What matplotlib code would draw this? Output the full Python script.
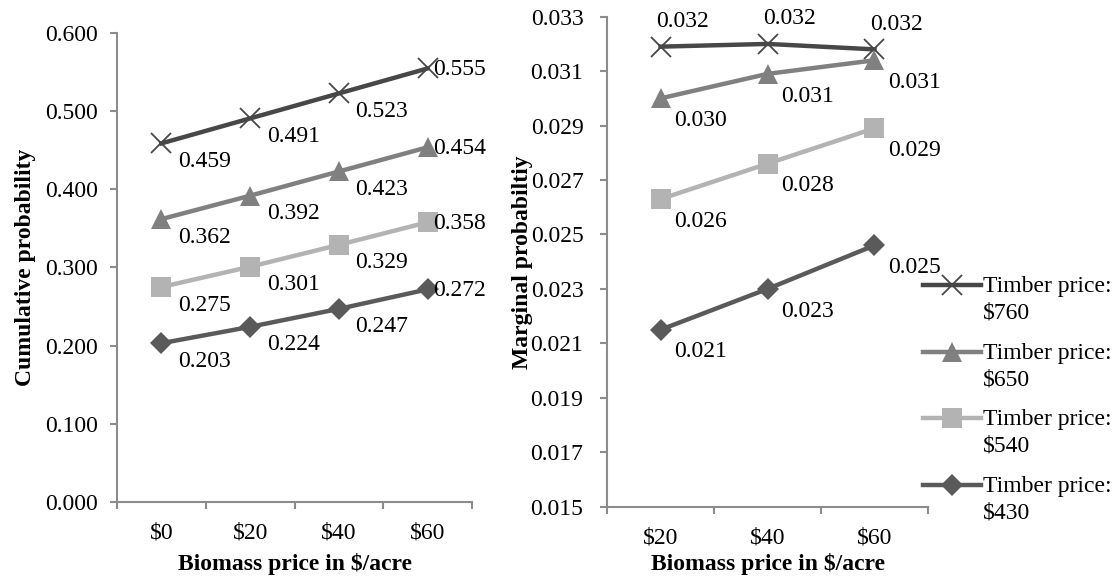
import numpy as np
import matplotlib
matplotlib.use("Agg")
from matplotlib import pyplot as plt
from matplotlib.legend_handler import HandlerLine2D

plt.rcParams['font.family'] = ['Liberation Serif', 'DejaVu Serif']
plt.rcParams['font.size'] = 17

# data
cum_x = ["$0", "$20", "$40", "$60"]
marg_x = ["$20", "$40", "$60"]
series = ["Timber price:\n$760", "Timber price:\n$650", "Timber price:\n$540", "Timber price:\n$430"]

cum_760 = [0.459, 0.491, 0.523, 0.555]
cum_650 = [0.362, 0.392, 0.423, 0.454]
cum_540 = [0.275, 0.301, 0.329, 0.358]
cum_430 = [0.203, 0.224, 0.247, 0.272]

marg_760 = [0.0319, 0.0320, 0.0318]
marg_650 = [0.0300, 0.0309, 0.0314]
marg_540 = [0.0263, 0.0276, 0.0289]
marg_430 = [0.0215, 0.0230, 0.0246]

cum_yticks = [0.0, 0.1, 0.2, 0.3, 0.4, 0.5, 0.6]
marg_yticks = [0.015, 0.017, 0.019, 0.021, 0.023, 0.025, 0.027, 0.029, 0.031, 0.033]

# styles
colors = ["#474747", "#808080", "#b3b3b3", "#5a5a5a"]
markers = ["x", "^", "s", "D"]
msizes = [14, 14, 14, 11]
axis_col = "#8c8c8c"


class FirstLineHandler(HandlerLine2D):
    # put the handle next to the first line of a two-line label
    def create_artists(self, legend, orig_handle, xdescent, ydescent, width, height, fontsize, trans):
        arts = super().create_artists(legend, orig_handle, xdescent, ydescent, width, height, fontsize, trans)
        for a in arts:
            a.set_ydata(np.asarray(a.get_ydata(), dtype=float) + 0.62 * fontsize)
        return arts


def style_axes(ax, n, yticks, fmt):
    for s in ["top", "right"]:
        ax.spines[s].set_visible(False)
    for s in ["left", "bottom"]:
        ax.spines[s].set_color(axis_col)
        ax.spines[s].set_linewidth(1.5)
    ax.set_xlim(-0.5, n - 0.5)
    ax.set_xticks(range(n))
    ax.set_xticks(np.arange(-0.5, n, 1.0), minor=True)
    ax.tick_params(axis="x", which="major", length=0, pad=15)
    ax.tick_params(axis="x", which="minor", length=5, width=1.5, color=axis_col, direction="out")
    ax.set_yticks(yticks)
    ax.set_ylim(yticks[0], yticks[-1])
    ax.set_yticklabels([fmt % v for v in yticks])
    ax.tick_params(axis="y", length=5, width=1.5, color=axis_col, direction="out")


fig = plt.figure(figsize=(11.18, 5.8), dpi=100)
ax1 = fig.add_axes([0.1047, 0.135, 0.3175, 0.8076])
ax2 = fig.add_axes([0.543, 0.1264, 0.287, 0.8448])

cum = [cum_760, cum_650, cum_540, cum_430]
marg = [marg_760, marg_650, marg_540, marg_430]

lines = []
for i, vals in enumerate(cum):
    ln, = ax1.plot(range(len(cum_x)), vals, color=colors[i], lw=3.2, marker=markers[i],
                   ms=msizes[i], mew=1.3 if markers[i] == "x" else 0, mec=colors[i], label=series[i])
    lines.append(ln)
    for j, v in enumerate(vals):
        if j == len(vals) - 1:
            off = (4, -1)
        else:
            off = (12, -13)
        ax1.annotate("%.3f" % v, (j, v), xytext=off, textcoords="offset points",
                     ha="left", va="center")

for i, vals in enumerate(marg):
    ax2.plot(range(len(marg_x)), vals, color=colors[i], lw=3.2, marker=markers[i],
             ms=msizes[i], mew=1.3 if markers[i] == "x" else 0, mec=colors[i])
    for j, v in enumerate(vals):
        if i == 0:
            off = (-3, 18)
        else:
            off = (10, -16)
        ax2.annotate("%.3f" % v, (j, v), xytext=off, textcoords="offset points",
                     ha="left", va="center")

style_axes(ax1, len(cum_x), cum_yticks, "%.3f")
style_axes(ax2, len(marg_x), marg_yticks, "%.3f")
ax1.set_xticklabels(cum_x)
ax2.set_xticklabels(marg_x)
ax1.tick_params(axis="y", pad=9)
ax2.tick_params(axis="y", pad=12)

ax1.set_ylabel("Cumulative probability", fontweight="bold")
ax1.yaxis.set_label_coords(-0.228, 0.5)
ax2.set_ylabel("Marginal probabiltiy", fontweight="bold")
ax2.yaxis.set_label_coords(-0.231, 0.5)
ax1.set_xlabel("Biomass price in $/acre", fontweight="bold")
ax1.xaxis.set_label_coords(0.5, -0.1095)
ax2.set_xlabel("Biomass price in $/acre", fontweight="bold")
ax2.xaxis.set_label_coords(0.5, -0.0945)

leg = fig.legend(handles=lines, loc="upper left", bbox_to_anchor=(0.817, 0.54), frameon=False,
                 handlelength=2.45, handletextpad=0.1, labelspacing=0.8, borderaxespad=0,
                 handler_map={matplotlib.lines.Line2D: FirstLineHandler(numpoints=1)})
for t in leg.get_texts():
    t.set_linespacing(1.35)

fig.savefig("out.png", dpi=100)
